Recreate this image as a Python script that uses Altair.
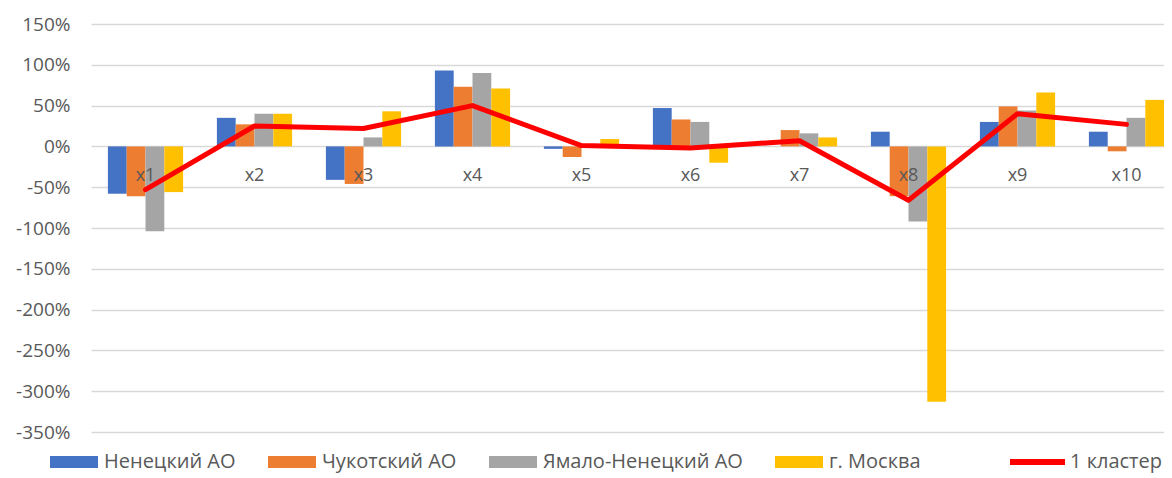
import altair as alt
import pandas as pd

categories = ["x1", "x2", "x3", "x4", "x5", "x6", "x7", "x8", "x9", "x10"]
series_names = ["Ненецкий АО", "Чукотский АО", "Ямало-Ненецкий АО", "г. Москва"]
nenets = [-58, 35, -41, 93, -3, 47, 0, 18, 30, 18]
chukotka = [-61, 27, -46, 73, -13, 33, 20, -61, 49, -6]
yamal = [-104, 40, 11, 90, 0, 30, 16, -92, 44, 35]
moscow = [-56, 40, 43, 71, 9, -20, 11, -313, 66, 57]
cluster_name = "1 кластер"
cluster = [-53, 25, 22, 50, 1, -2, 7, -66, 40, 27]
series_colors = ["#4472C4", "#ED7D31", "#A5A5A5", "#FFC000"]
y_ticks = [-350, -300, -250, -200, -150, -100, -50, 0, 50, 100, 150]

rows = []
for name, vals in zip(series_names, [nenets, chukotka, yamal, moscow]):
    for c, v in zip(categories, vals):
        rows.append({"cat": c, "series": name, "value": v})
bars_df = pd.DataFrame(rows)
line_df = pd.DataFrame({"cat": categories, "value": cluster, "series": [cluster_name] * len(categories)})
cat_df = pd.DataFrame({"cat": categories, "zero": [0] * len(categories)})

FONT = "Open Sans"
TXT = "#595959"

x_enc = alt.X("cat:N", sort=categories, axis=None,
              scale=alt.Scale(paddingInner=0.31, paddingOuter=0.155, range=[0, 1090]))
y_scale = alt.Scale(domain=[-350, 150], nice=False, zero=False)
y_axis = alt.Axis(values=y_ticks, labelExpr="datum.value + '%'", title=None,
                  domain=False, ticks=False, grid=True, gridColor="#D9D9D9",
                  gridWidth=1.3, labelFont=FONT, labelFontSize=19,
                  labelColor=TXT, labelPadding=21)

bars = alt.Chart(bars_df).mark_bar().encode(
    x=x_enc,
    xOffset=alt.XOffset("series:N", sort=series_names,
                        scale=alt.Scale(domain=series_names, paddingInner=0, paddingOuter=0)),
    y=alt.Y("value:Q", scale=y_scale, axis=y_axis),
    color=alt.Color("series:N", sort=series_names,
                    scale=alt.Scale(domain=series_names, range=series_colors),
                    legend=alt.Legend(title=None, orient="none", legendX=-41, legendY=414,
                                      direction="horizontal", columns=4,
                                      symbolType="M-1,-0.25L1,-0.25L1,0.25L-1,0.25Z",
                                      symbolSize=2304, symbolStrokeWidth=0, symbolOpacity=1,
                                      labelFont=FONT, labelFontSize=20, labelColor=TXT,
                                      labelLimit=400, labelOffset=6, columnPadding=32,
                                      padding=0)),
)

labels = alt.Chart(cat_df).mark_text(font=FONT, fontSize=18, color=TXT, dy=30,
                                     baseline="middle").encode(
    x=x_enc,
    y=alt.Y("zero:Q", scale=y_scale, title=None),
    text="cat:N",
)

line = alt.Chart(line_df).mark_line(strokeWidth=5, strokeJoin="round", strokeCap="round").encode(
    x=x_enc,
    y=alt.Y("value:Q", scale=y_scale, title=None),
    stroke=alt.Stroke("series:N", scale=alt.Scale(domain=[cluster_name], range=["#FF0000"]),
                      legend=alt.Legend(title=None, orient="none", legendX=916, legendY=407.5,
                                        symbolType="stroke", symbolSize=3025,
                                        symbolStrokeWidth=6, labelFont=FONT, labelFontSize=20,
                                        labelColor=TXT, labelLimit=400, labelOffset=2,
                                        padding=0)),
)

chart = alt.layer(bars, labels, line).properties(
    width=1073, height=408,
    padding={"left": 83, "top": 16, "right": 0, "bottom": 42},
    autosize=alt.AutoSizeParams(type="none"),
    background="white",
).configure_view(stroke=None)

chart.save("out.html", embed_options={"renderer": "svg", "actions": False})
